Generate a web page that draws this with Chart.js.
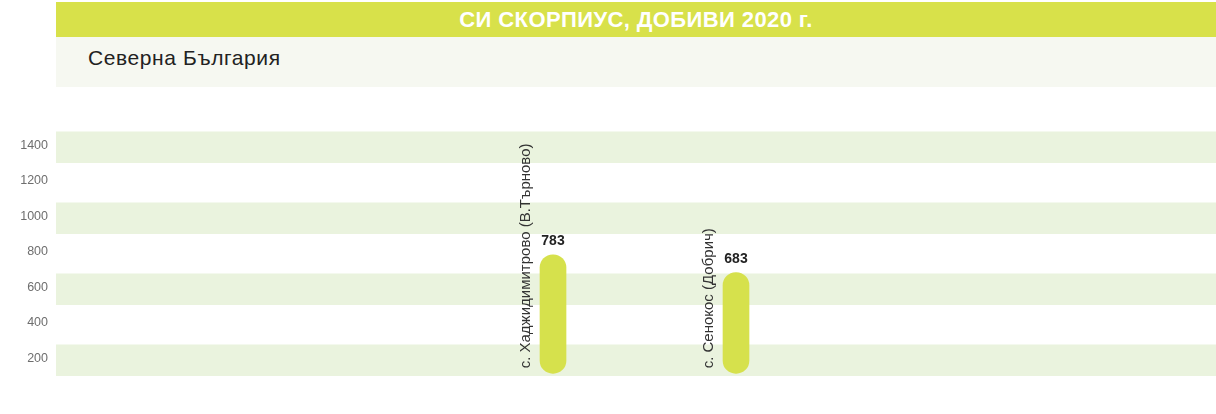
<!DOCTYPE html>
<html>
<head>
<meta charset="utf-8">
<script src="https://cdn.jsdelivr.net/npm/chart.js@4.4.1/dist/chart.umd.min.js"></script>
<style>
  html, body { margin: 0; padding: 0; background: #ffffff; }
  #wrap { position: relative; width: 1216px; height: 414px; overflow: hidden; font-family: "Liberation Sans", Arial, sans-serif; }
  #head { position: absolute; left: 56px; top: 2px; width: 1160px; height: 35px; background: rgb(216,225,74);
          color: #fff; font-weight: bold; font-size: 22px; letter-spacing: 0.4px; text-align: center; line-height: 35px; }
  #sub { position: absolute; left: 56px; top: 37px; width: 1160px; height: 50px; background: rgb(246,248,241); }
  #sub span { position: absolute; left: 32px; top: 9px; font-size: 21px; letter-spacing: 0.6px; color: #222; }
  canvas { position: absolute; left: 0; top: 0; }
</style>
</head>
<body>
<div id="wrap">
  <canvas id="c" width="1216" height="414"></canvas>
  <div id="head">СИ СКОРПИУС, ДОБИВИ 2020 г.</div>
  <div id="sub"><span>Северна България</span></div>
</div>
<script>
// ---- data ----
const categories = ["с. Хаджидимитрово (В.Търново)", "с. Сенокос (Добрич)"];
const values = [783, 683];
const tickValues = [200, 400, 600, 800, 1000, 1200, 1400];
const stripeValues = [200, 600, 1000, 1400];

const BAR = 'rgb(214,225,76)';
const STRIPE = 'rgb(234,243,222)';

const stripes = {
  id: 'stripes',
  beforeDatasetsDraw(chart) {
    const { ctx, chartArea, scales } = chart;
    const y = scales.y;
    ctx.save();
    ctx.fillStyle = STRIPE;
    stripeValues.forEach(v => {
      const top = y.getPixelForValue(v + 100) + 4;
      const bot = y.getPixelForValue(v - 100);
      ctx.fillRect(chartArea.left, top, chart.width - chartArea.left, bot - top);
    });
    ctx.restore();
  }
};

const labels = {
  id: 'labels',
  afterDatasetsDraw(chart) {
    const { ctx } = chart;
    const meta = chart.getDatasetMeta(0);
    ctx.save();
    meta.data.forEach((bar, i) => {
      ctx.fillStyle = '#222';
      ctx.font = 'bold 14px "Liberation Sans", Arial, sans-serif';
      ctx.textAlign = 'center';
      ctx.textBaseline = 'alphabetic';
      ctx.fillText(String(values[i]), bar.x, bar.y - 10);
      ctx.save();
      ctx.translate(bar.x - 27, bar.base - 5);
      ctx.rotate(-Math.PI / 2);
      ctx.fillStyle = '#333';
      ctx.font = '15px "Liberation Sans", Arial, sans-serif';
      ctx.textAlign = 'left';
      ctx.textBaseline = 'middle';
      ctx.fillText(categories[i], 0, 0);
      ctx.restore();
    });
    ctx.restore();
  }
};

new Chart(document.getElementById('c'), {
  type: 'bar',
  data: {
    datasets: [{
      data: categories.map((c, i) => ({ x: i, y: values[i] })),
      backgroundColor: BAR,
      borderRadius: 13,
      borderSkipped: false,
      barThickness: 26,
      base: 115
    }]
  },
  options: {
    responsive: false,
    animation: false,
    layout: { padding: { top: 127.5, bottom: 38, left: 0, right: 0 } },
    plugins: { legend: { display: false }, tooltip: { enabled: false }, title: { display: false } },
    scales: {
      x: {
        type: 'linear',
        offset: false,
        min: -2.716,
        max: 3.623,
        display: false
      },
      y: {
        min: 100,
        max: 1500,
        grid: { display: false, drawTicks: false },
        border: { display: false },
        afterFit(s) { s.width = 56; },
        afterBuildTicks(s) { s.ticks = tickValues.map(v => ({ value: v })); },
        ticks: {
          color: '#6e6e6e',
          padding: 8,
          callback: v => String(v),
          font: { size: 12.5, family: '"Liberation Sans", Arial, sans-serif' }
        }
      }
    }
  },
  plugins: [stripes, labels]
});
</script>
</body>
</html>
